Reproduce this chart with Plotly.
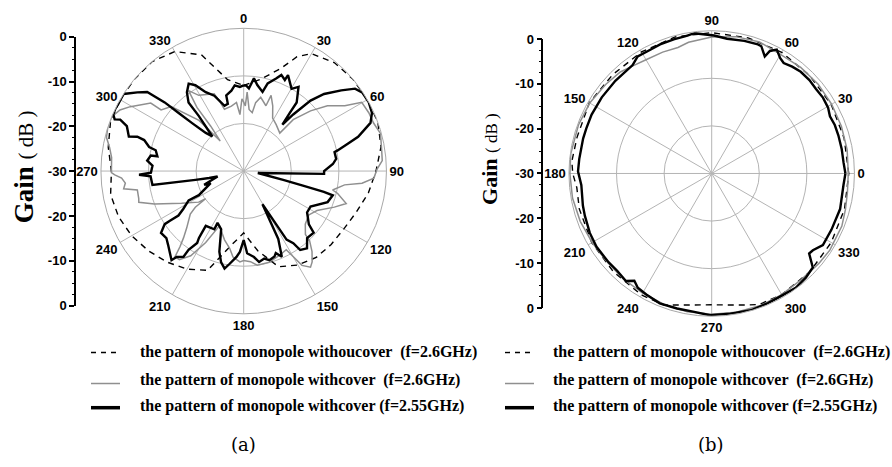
import plotly.graph_objects as go

W, H = 892, 467

# ---------------- Panel (a): compass orientation (0 at top, clockwise) ----------------
theta_a_dash = [0, 10, 20, 25, 30, 40, 50, 60, 70, 80, 90, 100, 110, 120, 130, 140, 150,
                160, 170, 180, 190, 200, 210, 220, 230, 240, 250, 260, 270, 280, 290,
                300, 310, 320, 330, 340, 350, 360]
r_a_dash = [-12, -10.5, -7, -3.5, -1.5, -0.3, 0, 0, 0, -0.7, -2.2, -3.4, -4.8, -5.7, -6.0,
            -6.3, -7.2, -8.6, -13, -17, -14, -7.8, -6.2, -5.0, -3.9, -2.8, -2.0, -1.6,
            -2.2, -1.1, -0.2, 0, 0, 0, -1.0, -4.0, -10.5, -12]

theta_a_gray = [0, 1.4, 2.5, 5, 8.3, 9.9, 13, 18.8, 19.9, 24, 28.6, 35, 43.6, 43.9, 48,
                52.1, 57.1, 59.8, 65, 69.7, 74.6, 80, 85.7, 89.3, 93.1, 95.9, 97.8, 102,
                103.4, 107.6, 111.7, 118.3, 124, 130.8, 135.8, 136.5, 139.7, 143, 145.2,
                148.3, 150.3, 151.6, 156.8, 164.2, 171.8, 175.7, 180, 182.4, 187.1, 190.3,
                195.6, 203.9, 208, 212, 216, 218.7, 220.1, 222, 225.1, 231.2, 233.2, 234,
                235.4, 242.7, 249.7, 253.4, 255.3, 259.9, 261.6, 264.2, 266.7, 268.3,
                269.3, 275.8, 279.9, 283.8, 287.8, 292.3, 296.3, 299.6, 306.2, 306.5,
                311.7, 318.6, 322, 323.7, 323.7, 325.6, 329.3, 339.1, 340.9, 342.7, 349.3,
                354, 356.2, 358.6, 360]
r_a_gray = [-15.5, -16.3, -13.4, -17.0, -17.6, -15.4, -14.1, -15.5, -13.1, -15.0, -17.3,
            -18.1, -19.0, -15.0, -11.1, -7.7, -4.7, -1.3, -1.0, -0.9, -0.2, -0.6, -0.8,
            -2.0, -2.6, -5.0, -8.6, -10.9, -9.7, -7.4, -9.5, -12.5, -13.5, -12.9, -11.4,
            -9.9, -7.8, -6.1, -5.4, -6.7, -9.7, -11.2, -10.8, -10.1, -10.0, -10.9, -11.2,
            -10.9, -11.8, -13.5, -15.0, -17.4, -13.0, -9.0, -7.0, -6.9, -9.2, -11.1,
            -13.1, -15.6, -17.3, -20.1, -18.5, -15.3, -10.0, -7.0, -7.2, -7.3, -4.5,
            -5.0, -4.3, -2.9, -2.2, -2.1, -1.4, -0.3, 0, 0, -1.0, -2.6, -5.8, -8.4,
            -9.6, -15.8, -22.0, -18.3, -13.4, -9.5, -11.5, -12.6, -14.4, -16.4, -16.1,
            -15.5, -18.1, -14.8, -15.5]

theta_a_black = [0, 1.6, 3.6, 6.3, 9, 13.4, 15.3, 19.3, 21.4, 24.3, 24.8, 30.2, 33.1, 37.7,
                 38.4, 39.8, 41.2, 43.5, 46.2, 50.4, 53.5, 56.6, 61.2, 65.6, 69.2, 73.3,
                 75.2, 77.6, 78.2, 82.5, 85.5, 90, 92, 97.7, 102.5, 103.8, 104.5, 105.2,
                 110.3, 118, 123.1, 129.3, 131.4, 136.6, 140.7, 144.4, 145.5, 148, 150.5,
                 153, 156, 158.6, 160.2, 163.9, 166.8, 170.4, 173.2, 177.6, 180, 182.7,
                 184.8, 188.6, 191.1, 194, 196.8, 201.2, 206.8, 206.8, 214.7, 213.8, 212.9,
                 215, 215.1, 218, 219, 225.7, 229.1, 233.2, 236.1, 236, 235.7, 237.9, 242,
                 241.7, 249.8, 250.8, 258.4, 258.6, 259.7, 261.3, 266.7, 268, 269, 273.4,
                 276.2, 279.5, 279.7, 283.3, 284.3, 287.3, 287.9, 286.7, 291, 292.6, 291.8,
                 293.5, 296.2, 298.1, 302.7, 306.5, 309.3, 311, 311.7, 312.9, 315.2, 317.8,
                 320.8, 321.2, 324.2, 327.8, 330.6, 334.3, 338.7, 343.6, 346.7, 347, 351.3,
                 354, 357.4, 360]
r_a_black = [-12.0, -12.0, -12.6, -10.4, -11.7, -12.9, -10.9, -9.4, -8.3, -9.0, -7.8, -10.0,
             -8.9, -11.8, -14.4, -17.3, -14.2, -9.6, -6.6, -3.4, -0.9, -0.1, 0, -0.4, -1.5,
             -4.9, -7.3, -9.8, -10.5, -10.4, -11.2, -13.1, -13.1, -27.0, -21.5, -17.0,
             -12.6, -10.6, -11.2, -14.1, -14.1, -12.3, -10.4, -10.6, -9.0, -9.6, -11.6,
             -13.0, -22.0, -14.0, -10.3, -11.5, -10.9, -10.5, -11.1, -10.6, -11.8, -12.7,
             -15.5, -13.0, -11.9, -10.3, -9.1, -10.3, -12.3, -16.9, -17.8, -16.3, -16.0,
             -13.1, -12.0, -9.8, -8.0, -7.1, -5.9, -7.8, -8.5, -8.3, -10.0, -11.3, -13.4,
             -15.0, -16.9, -19.3, -22.6, -21.2, -24.4, -22.6, -19.7, -10.6, -10.4, -8.0,
             -10.5, -10.8, -9.6, -10.2, -11.6, -11.0, -9.5, -8.1, -6.5, -4.8, -3.7, -1.9,
             -0.8, -0.1, 0, -0.1, 0, -2.2, -3.8, -8.0, -11.6, -15.2, -18.7, -20.2, -15.1,
             -11.5, -9.6, -8.3, -9.3, -11.6, -13.0, -15.7, -15.5, -13.7, -12.9, -11.9,
             -12.3, -12.0]

# ---------------- Panel (b): standard orientation (0 at right, counterclockwise) -------
theta_b_dash = [0, 15, 30, 45, 60, 75, 90, 105, 120, 135, 150, 165, 175, 180, 186, 195, 210,
                225, 240, 250, 255, 262, 270, 278, 285, 290, 300, 315, 330, 345, 360]
r_b_dash = [-1.2, -1.2, -1.0, -0.9, -0.6, -0.5, -0.4, -0.3, -0.5, -0.6, -0.3, -0.7, -0.5,
            -0.8, -1.5, -1.2, -0.9, -0.8, -0.5, -0.6, -1.4, -2.1, -2.4, -2.1, -1.4, -0.7,
            -0.6, -0.8, -1.0, -1.1, -1.2]

theta_b_gray = [0, 10, 20, 30, 40, 50, 60, 70, 80, 90, 100, 105, 112, 120, 126, 132, 140,
                150, 160, 172, 180, 190, 200, 210, 220, 230, 240, 250, 260, 270, 280, 290,
                300, 310, 320, 327, 338, 345, 352, 360]
r_b_gray = [-1.3, -1.1, -1.0, -0.9, -0.8, -0.9, -1.1, -0.6, -0.8, -1.3, -2.0, -2.6, -2.5,
            -2.4, -2.0, -1.3, -0.9, -0.4, -0.2, -0.1, -0.2, -0.3, -0.6, -1.0, -1.2, -1.1,
            -1.0, -0.7, -0.5, -0.4, -0.4, -0.4, -0.6, -0.8, -0.6, -0.4, -0.5, -0.9, -1.2,
            -1.3]

theta_b_black = [0, 4.8, 10.7, 16.8, 21.5, 25.8, 29.5, 34.3, 39, 43.7, 48.8, 53, 56.9, 59.3,
                 62.3, 64.6, 65.6, 68.7, 70.3, 76.2, 83.5, 89, 94.4, 97.1, 100, 105.8, 111.8,
                 117.5, 122.3, 126.1, 136.1, 145.3, 153.9, 160.2, 164.8, 173.8, 179.1, 185.1,
                 194, 198.5, 206, 212.5, 220.7, 225.8, 231.4, 234.2, 237.1, 241.6, 248.2,
                 255.6, 262.8, 269.3, 277.6, 286, 293.5, 300.7, 306.3, 312.1, 317.1, 320.6,
                 322.8, 327.2, 334.9, 344.5, 349, 355, 360]
r_b_black = [-1.9, -2.2, -2.2, -2.2, -2.2, -2.4, -1.9, -1.7, -1.8, -1.6, -1.6, -1.9, -2.3,
             -1.8, -0.6, -1.5, -3.0, -1.3, -1.2, -1.3, -1.5, -1.0, -0.6, -0.3, -0.6, -0.7,
             -0.8, -1.0, -0.9, -1.8, -1.9, -1.9, -1.9, -2.0, -2.0, -2.0, -1.9, -2.5, -2.1,
             -1.9, -1.5, -1.3, -1.4, -1.5, -1.1, -2.2, -1.4, -1.1, -0.6, -0.7, -0.7, -0.2,
             -0.3, -0.1, -0.3, -0.4, -0.2, -0.5, -1.0, -3.5, -3.3, -2.2, -2.2, -2.0, -2.2,
             -2.2, -1.9]

angle_ticks = list(range(0, 360, 30))
angle_labels = [str(a) for a in angle_ticks]
gain_tickvals = [0, 10, 20, 30, 40, 50, 60]
gain_ticktext = ["0", "-10", "-20", "-30", "-20", "-10", "0"]

legend_labels = [
    "the pattern of monopole withoucover \u00a0(f=2.6GHz)",
    "the pattern of monopole withcover \u00a0(f=2.6GHz)",
    "the pattern of monopole withcover (f=2.55GHz)",
]

DASH = "6px,5px"
GRAY = "#8f8f8f"
GRID = "#b4b4b4"
SANS = "Arial, Liberation Sans, sans-serif"
SERIF = "Times New Roman, Liberation Serif, serif"
PAD = 8.5  # plotly draws the polar circle this many px inside its domain

fig = go.Figure()

def add_set(sub, th, rd, color, width, dash):
    fig.add_trace(go.Scatterpolar(theta=th, r=rd, mode="lines", subplot=sub,
                                  line=dict(color=color, width=width, dash=dash),
                                  showlegend=False, hoverinfo="skip"))

add_set("polar", theta_a_dash, r_a_dash, "black", 1.4, DASH)
add_set("polar", theta_a_gray, r_a_gray, GRAY, 1.5, "solid")
add_set("polar", theta_a_black, r_a_black, "black", 2.4, "solid")
add_set("polar2", theta_b_dash, r_b_dash, "black", 1.4, DASH)
add_set("polar2", theta_b_gray, r_b_gray, GRAY, 1.5, "solid")
add_set("polar2", theta_b_black, r_b_black, "black", 2.4, "solid")

fig.add_trace(go.Scatter(x=[], y=[], xaxis="x", yaxis="y", showlegend=False))
fig.add_trace(go.Scatter(x=[], y=[], xaxis="x2", yaxis="y2", showlegend=False))

def polar_cfg(cx, cy, R, rotation, direction):
    R = R + PAD
    return dict(
        domain=dict(x=[(cx - R) / W, (cx + R) / W], y=[1 - (cy + R) / H, 1 - (cy - R) / H]),
        bgcolor="white",
        angularaxis=dict(rotation=rotation, direction=direction, tickvals=angle_ticks,
                         ticktext=angle_labels, showline=True, linecolor="#a8a8a8",
                         linewidth=1, gridcolor=GRID, gridwidth=1, ticks="",
                         tickfont=dict(family=SANS, size=13, color="black", weight="bold")),
        radialaxis=dict(range=[-30, 0], tickvals=[-20, -10], showticklabels=False,
                        ticks="", showline=False, gridcolor=GRID, gridwidth=1),
    )

def yaxis_cfg(top, bottom):
    return dict(domain=[1 - bottom / H, 1 - top / H], range=[0, 60], tickvals=gain_tickvals,
                ticktext=gain_ticktext, showline=True, linecolor="black", linewidth=1.5,
                ticks="outside", ticklen=5, tickwidth=1.5, tickcolor="black",
                minor=dict(ticks="outside", ticklen=2.5, dtick=2.5, tickcolor="black",
                           tickwidth=1),
                showgrid=False, zeroline=False, fixedrange=True,
                tickfont=dict(family=SANS, size=13, color="black", weight="bold"))

fig.update_layout(
    width=W, height=H, margin=dict(l=0, r=0, t=0, b=0),
    paper_bgcolor="white", plot_bgcolor="rgba(0,0,0,0)", showlegend=False,
    polar=polar_cfg(243.7, 169.5, 139, 90, "clockwise"),
    polar2=polar_cfg(711.7, 172, 139, 0, "counterclockwise"),
    xaxis=dict(domain=[76 / W, 77 / W], visible=False, range=[0, 1]),
    yaxis=dict(anchor="x", **yaxis_cfg(30.7, 308.5)),
    xaxis2=dict(domain=[543.3 / W, 544.3 / W], visible=False, range=[0, 1]),
    yaxis2=dict(anchor="x2", **yaxis_cfg(33, 311)),
)

annotations = []
for xc, yc, big, small in ((23.5, 165, 27, 21), (490, 157, 22, 17)):
    annotations.append(dict(
        x=xc / W, y=1 - yc / H, xref="paper", yref="paper", showarrow=False, textangle=-90,
        text="<b>Gain</b> <span style='font-size:%dpx'>( dB )</span>" % small,
        font=dict(family=SERIF, size=big, color="black"), xanchor="center", yanchor="middle"))

row_y = [356, 385, 412]
sym_y = [357, 389, 414]
for x_sym0, x_text in ((91, 138), (505, 550.6)):
    for i, lab in enumerate(legend_labels):
        annotations.append(dict(
            x=x_text / W, y=1 - row_y[i] / H, xref="paper", yref="paper", showarrow=False,
            text="<b>" + lab + "</b>", xanchor="left", yanchor="middle",
            font=dict(family=SERIF, size=16, color="black")))
    fig.add_shape(type="line", xref="paper", yref="paper", x0=x_sym0 / W, x1=(x_sym0 + 29) / W,
                  y0=1 - sym_y[0] / H, y1=1 - sym_y[0] / H,
                  line=dict(color="black", width=1.4, dash="5px,5px"))
    fig.add_shape(type="line", xref="paper", yref="paper", x0=x_sym0 / W, x1=(x_sym0 + 29) / W,
                  y0=1 - sym_y[1] / H, y1=1 - sym_y[1] / H,
                  line=dict(color=GRAY, width=1.5))
    fig.add_shape(type="line", xref="paper", yref="paper", x0=x_sym0 / W, x1=(x_sym0 + 29) / W,
                  y0=1 - sym_y[2] / H, y1=1 - sym_y[2] / H,
                  line=dict(color="black", width=3.5))

for xc, lab in ((243 / W, "(a)"), (711 / W, "(b)")):
    annotations.append(dict(x=xc, y=1 - 452 / H, xref="paper", yref="paper", showarrow=False,
                            text=lab, xanchor="center", yanchor="middle",
                            font=dict(family="DejaVu Serif, serif", size=18, color="black")))

fig.update_layout(annotations=annotations)
fig.write_html("out.html")
